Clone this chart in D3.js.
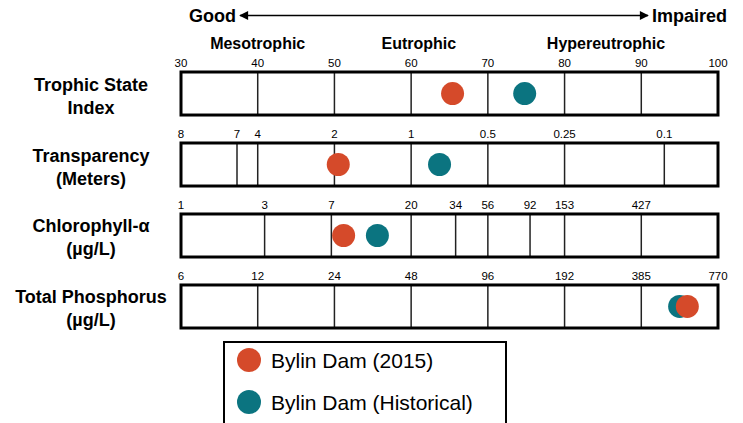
<!DOCTYPE html>
<meta charset="utf-8">
<script src="https://d3js.org/d3.v7.min.js"></script>
<style>
  body { margin: 0; background: white; }
  text { font-family: Arial, "Liberation Sans", sans-serif; }
</style>
<div id="chart"></div>
<script>
    // rows of the chart, each drawn on the shared TSI scale
    var rowNames = ["tsi", "sd", "chl", "tp"];
    var rowLabels = [["Trophic State", "Index"], ["Transparency", "(Meters)"],
                     ["Chlorophyll-\u03b1", "(\u00b5g/L)"], ["Total Phosphorus", "(\u00b5g/L)"]];

    // tick labels and where they sit on the TSI scale
    var tsiTickLabels = ["30", "40", "50", "60", "70", "80", "90", "100"];
    var tsiTickPos    = [30, 40, 50, 60, 70, 80, 90, 100];
    var sdTickLabels  = ["8", "7", "4", "2", "1", "0.5", "0.25", "0.1"];
    var sdTickPos     = [30, 37.3, 40, 50, 60, 70, 80, 93];
    var chlTickLabels = ["1", "3", "7", "20", "34", "56", "92", "153", "427"];
    var chlTickPos    = [30, 40.9, 49.6, 60, 65.8, 70, 75.5, 80, 90];
    var tpTickLabels  = ["6", "12", "24", "48", "96", "192", "385", "770"];
    var tpTickPos     = [30, 40, 50, 60, 70, 80, 90, 100];

    // trophic classes (label centre on TSI scale)
    var classNames = ["Mesotrophic", "Eutrophic", "Hypereutrophic"];
    var classPos   = [40, 61, 85.4];

    // site values expressed as TSI, one per row
    var seriesNames = ["Bylin Dam (2015)", "Bylin Dam (Historical)"];
    var bylin2015 = [65.4, 50.5, 51.2, 96];
    var bylinHist = [74.8, 63.7, 55.6, 95];
    var colors = ["#d54a2a", "#0b7480"];

    var W = 743, H = 423;
    var svg = d3.select("#chart").append("svg")
        .attr("width", W).attr("height", H);

    var x = d3.scaleLinear().domain([30, 100]).range([181, 718]);
    var y = d3.scaleBand().domain(rowNames).range([72, 328]).paddingInner(0.394);

    var ticks = [
      {labels: tsiTickLabels, pos: tsiTickPos},
      {labels: sdTickLabels, pos: sdTickPos},
      {labels: chlTickLabels, pos: chlTickPos},
      {labels: tpTickLabels, pos: tpTickPos}
    ];

    // Good / Impaired arrow
    var defs = svg.append("defs");
    defs.append("marker").attr("id", "ah")
        .attr("viewBox", "0 0 10 10").attr("refX", 9).attr("refY", 5)
        .attr("markerWidth", 7).attr("markerHeight", 6)
        .attr("orient", "auto-start-reverse")
      .append("path").attr("d", "M0,0 L10,5 L0,10 z").attr("fill", "black");

    svg.append("line")
        .attr("x1", 240).attr("x2", 648).attr("y1", 15.5).attr("y2", 15.5)
        .attr("stroke", "black").attr("stroke-width", 1.5)
        .attr("marker-start", "url(#ah)").attr("marker-end", "url(#ah)");
    svg.append("text").attr("x", 236).attr("y", 22).attr("text-anchor", "end")
        .attr("font-size", 18).attr("font-weight", "bold").text("Good");
    svg.append("text").attr("x", 652).attr("y", 22)
        .attr("font-size", 18).attr("font-weight", "bold").text("Impaired");

    // class names
    svg.selectAll(".cls").data(classNames).enter().append("text")
        .attr("x", function(d, i) { return x(classPos[i]); })
        .attr("y", 49).attr("text-anchor", "middle")
        .attr("font-size", 16).attr("font-weight", "bold")
        .text(function(d) { return d; });

    // rows
    rowNames.forEach(function(r, i) {
      var top = y(r), bh = y.bandwidth(), mid = top + bh / 2;
      var g = svg.append("g");

      // inner grid lines (skip the box edges)
      g.selectAll("line").data(ticks[i].pos.filter(function(p) { return p > 30 && p < 100; }))
        .enter().append("line")
          .attr("x1", function(d) { return x(d); }).attr("x2", function(d) { return x(d); })
          .attr("y1", top).attr("y2", top + bh)
          .attr("stroke", "#222").attr("stroke-width", 1.5);

      g.append("rect")
          .attr("x", x(30)).attr("y", top)
          .attr("width", x(100) - x(30)).attr("height", bh)
          .attr("fill", "none").attr("stroke", "black").attr("stroke-width", 3);

      g.selectAll(".tl").data(ticks[i].labels).enter().append("text")
          .attr("x", function(d, j) { return x(ticks[i].pos[j]); })
          .attr("y", top - 5).attr("text-anchor", "middle")
          .attr("font-size", 11.5).text(function(d) { return d; });

      // row label
      g.selectAll(".rl").data(rowLabels[i]).enter().append("text")
          .attr("x", 91).attr("y", function(d, j) { return mid - 3 + j * 23; })
          .attr("text-anchor", "middle")
          .attr("font-size", 18).attr("font-weight", "bold")
          .text(function(d) { return d; });

      // points: historical underneath, 2015 on top
      [bylinHist, bylin2015].forEach(function(s, k) {
        g.append("circle")
            .attr("cx", x(s[i])).attr("cy", mid).attr("r", 11.5)
            .attr("fill", k === 0 ? colors[1] : colors[0]);
      });
    });

    // legend
    var leg = svg.append("g");
    leg.append("rect").attr("x", 224).attr("y", 342).attr("width", 282).attr("height", 110)
        .attr("fill", "none").attr("stroke", "black").attr("stroke-width", 2);
    seriesNames.forEach(function(n, i) {
      leg.append("circle").attr("cx", 249).attr("cy", 360 + i * 42).attr("r", 12)
          .attr("fill", colors[i]);
      leg.append("text").attr("x", 271).attr("y", 368 + i * 42)
          .attr("font-size", 21).text(n);
    });
</script>
